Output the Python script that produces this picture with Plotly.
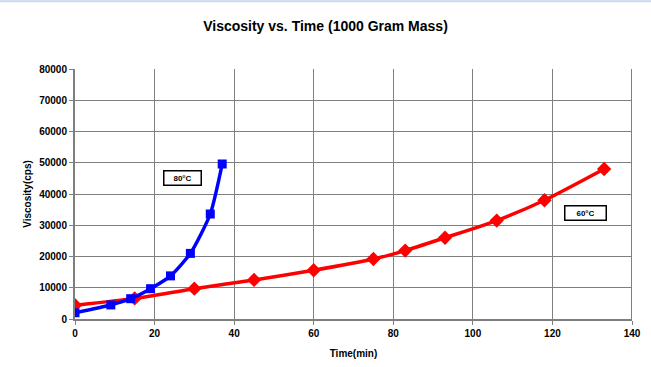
import plotly.graph_objects as go

time_80 = [0, 9, 14, 19, 24, 29, 34, 37]
visc_80 = [2000, 4500, 6500, 9700, 13800, 21000, 33600, 49600]

time_60 = [0, 15, 30, 45, 60, 75, 83, 93, 106, 118, 133]
visc_60 = [4400, 6600, 9700, 12500, 15600, 19200, 21900, 26000, 31500, 38000, 48000]

x_ticks = [0, 20, 40, 60, 80, 100, 120, 140]
y_ticks = [0, 10000, 20000, 30000, 40000, 50000, 60000, 70000, 80000]

font = "Liberation Sans, Arial, sans-serif"

fig = go.Figure()
fig.add_trace(go.Scatter(
    x=time_60, y=visc_60, mode="lines+markers", name="60°C",
    line=dict(color="#ff0000", width=3.5, shape="spline", smoothing=0.6),
    marker=dict(symbol="diamond", size=11, color="#ff0000"),
))
fig.add_trace(go.Scatter(
    x=time_80, y=visc_80, mode="lines+markers", name="80°C",
    line=dict(color="#0000ff", width=3.5, shape="spline", smoothing=0.6),
    marker=dict(symbol="square", size=9, color="#0000ff"),
))

L, R, T, B = 75, 19, 69, 47.5
H = 367
ph = H - T - B

fig.update_layout(
    width=651, height=367,
    margin=dict(l=L, r=R, t=T, b=B, autoexpand=False),
    paper_bgcolor="white", plot_bgcolor="white",
    showlegend=False,
    title=dict(text="<b>Viscosity vs. Time (1000 Gram Mass)</b>",
               x=0.5, xanchor="center", y=1 - 26 / H, yanchor="middle",
               font=dict(family=font, size=14, color="black")),
    xaxis=dict(range=[0, 140], tickvals=x_ticks,
               ticktext=[f"<b>{v}</b>" for v in x_ticks], showgrid=True,
               gridcolor="#7f7f7f", gridwidth=1, showline=True, linecolor="#7f7f7f",
               linewidth=2, mirror=False, ticks="outside", ticklen=4, tickcolor="#7f7f7f",
               zeroline=False, automargin=False,
               tickfont=dict(family=font, size=10, color="black"),
               title=dict(text="<b>Time(min)</b>", standoff=12,
                          font=dict(family=font, size=10, color="black"))),
    yaxis=dict(range=[0, 80000], tickvals=y_ticks,
               ticktext=[f"<b>{v}</b>" for v in y_ticks], showgrid=True,
               gridcolor="#7f7f7f", gridwidth=1, showline=True, linecolor="#7f7f7f",
               linewidth=2, ticks="outside", ticklen=4, tickcolor="#7f7f7f",
               zeroline=False, automargin=False,
               tickfont=dict(family=font, size=10, color="black"),
               title=dict(text="<b>Viscosity(cps)</b>", standoff=6,
                          font=dict(family=font, size=10, color="black"))),
    annotations=[
        dict(x=27.1, y=45000, xref="x", yref="y", text="<b>80°C</b>", showarrow=False,
             font=dict(family=font, size=8, color="black"), bordercolor="black",
             borderwidth=1.5, borderpad=2, bgcolor="white", width=32),
        dict(x=128.2, y=34000, xref="x", yref="y", text="<b>60°C</b>", showarrow=False,
             font=dict(family=font, size=8, color="black"), bordercolor="black",
             borderwidth=1.5, borderpad=2, bgcolor="white", width=36),
    ],
    shapes=[
        dict(type="line", xref="x", yref="paper", x0=140, x1=140, y0=0, y1=1,
             line=dict(color="#7f7f7f", width=2)),
        dict(type="line", xref="paper", yref="paper", x0=-L / 557, x1=1 + R / 557,
             y0=1 + (T - 1) / ph, y1=1 + (T - 1) / ph,
             line=dict(color="#c6d9f0", width=2)),
    ],
)

fig.write_html("out.html", config={"displayModeBar": False},
               post_script="document.body.style.margin='0px';")
